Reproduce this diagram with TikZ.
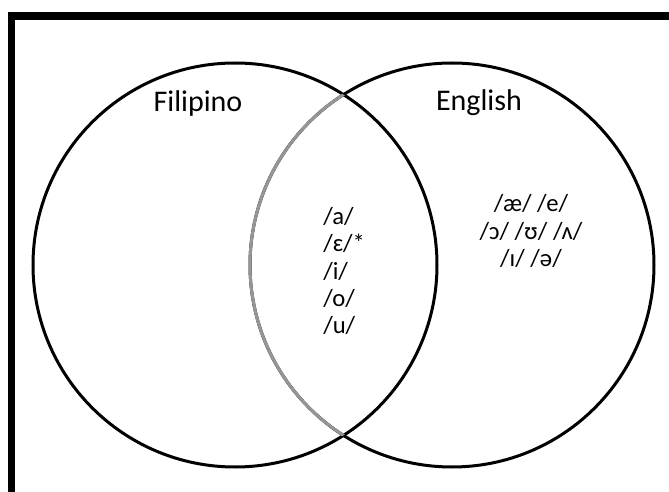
\documentclass[tikz,border=0pt]{standalone}
\usepackage{fontspec}
\setmainfont{Carlito}
\tikzset{
  ring/.style={line width=2.25pt},
  label/.style={inner sep=0.75pt, font=\fontsize{22.5}{27}\selectfont},
  vowels/.style={inner sep=0.75pt, font=\fontsize{18.5}{20.6}\selectfont}
}
\begin{document}
\begin{tikzpicture}[x=0.75pt,y=0.75pt,yscale=-1,xscale=1]
        \useasboundingbox (0,0) rectangle (669,492);
        
        %Frame (top and left edges only)
        \fill (8,12) rectangle (669,20);
        \fill (8,12) rectangle (15,492);
        
        %Circles
        \coordinate (fil) at (235,265);
        \coordinate (eng) at (452,265);
        \draw [ring] (fil) circle (202);
        \draw [ring] (eng) circle (202);
        %grey part of the English circle inside the Filipino one
        \begin{scope}
          \clip (fil) circle (202);
          \draw [ring, color={rgb, 255:red, 150; green, 150; blue, 150 }] (eng) circle (202);
        \end{scope}
        
        % Text Node
        \node [label] (filname) at (198,104) {Filipino};
        % Text Node
        \node [label] (engname) at (479,103) {English};
        % Text Node
        \node [vowels, anchor=west, align=left] (shared) at (322,271) {/a/\\/ɛ/*\\/i/\\/o/\\/u/};
        % Text Node
        \node [vowels, align=center] (engonly) at (531,231) {/æ/ /e/\\/ɔ/ /ʊ/ /ʌ/\\/ɪ/ /ə/};
        
\end{tikzpicture}
\end{document}
